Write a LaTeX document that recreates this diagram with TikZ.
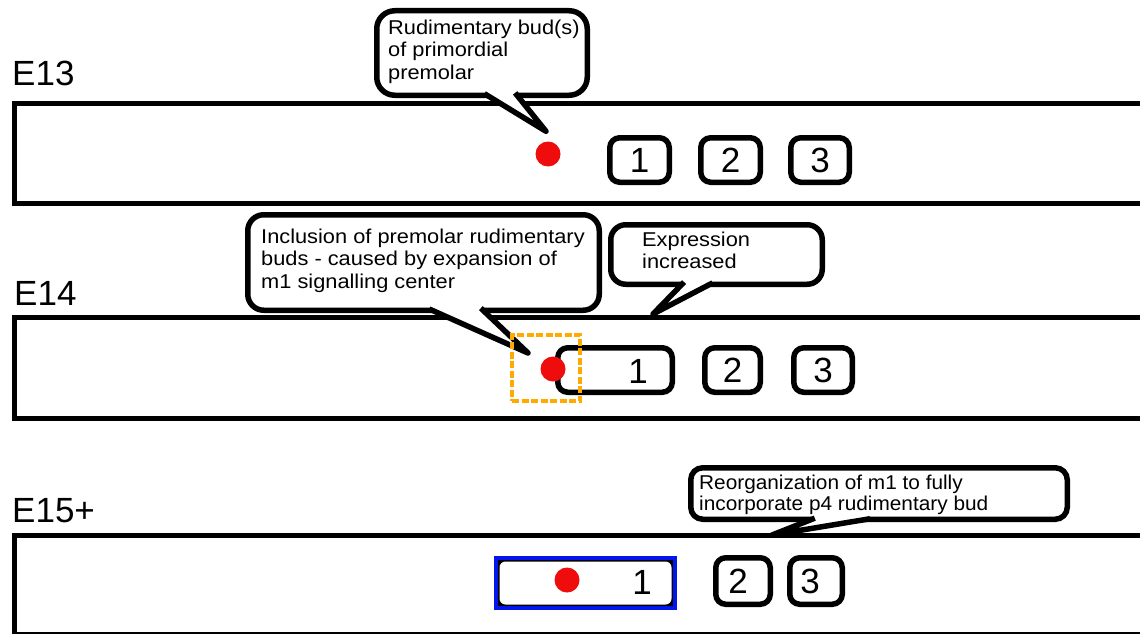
\documentclass[tikz,border=0pt]{standalone}
\usepackage{fontspec}
\setmainfont{Liberation Sans}
\newfontfamily\bubfonta[FakeStretch=1.09]{Liberation Sans}
\newfontfamily\bubfontb[FakeStretch=1.04]{Liberation Sans}
\usetikzlibrary{calc}
\definecolor{dotred}{RGB}{238,12,12}
\definecolor{hiorange}{RGB}{255,170,0}
\definecolor{hiblue}{RGB}{5,20,235}
\tikzset{
  band/.style={draw=black, line width=5pt},
  tooth/.style={draw=black, line width=5.5pt, rounded corners=10pt, fill=white, inner sep=0pt,
    font=\fontsize{35}{40}\selectfont},
  digit/.style={inner sep=0pt, font=\fontsize{35}{40}\selectfont},
  bubble/.style={draw=black, line width=5.5pt, fill=white, inner sep=0pt},
  tailline/.style={draw=black, line width=5.5pt, line join=round},
  bubtext/.style={anchor=base west, align=left, inner sep=0pt},
  fonta/.style={font=\bubfonta\fontsize{20}{#1}\selectfont},
  fontb/.style={font=\bubfontb\fontsize{20}{#1}\selectfont},
  stage/.style={anchor=base west, inner sep=0pt, font=\fontsize{35}{40}\selectfont},
  bud/.style={circle, fill=dotred, minimum size=25pt, inner sep=0pt},
}
\begin{document}
\begin{tikzpicture}[x=1pt,y=-1pt]
\useasboundingbox (0,0) rectangle (1140,634);
\clip (0,0) rectangle (1140,634);
\fill[white] (0,0) rectangle (1140,634);

% stage labels
\node[stage] (e13) at (12,85) {E13};
\node[stage] (e14) at (14,305) {E14};
\node[stage] (e15) at (12,522) {E15+};

% bands
\draw[band] (14.5,103) rectangle (1160,203.5);
\draw[band] (14.5,317) rectangle (1160,418);
\draw[band] (14.5,535) rectangle (1160,634.5);

% ---- E13 teeth
\node[tooth, minimum width=59.5pt, minimum height=44.5pt] (t13a) at (639.5,160) {1};
\node[tooth, minimum width=59.5pt, minimum height=44.5pt] (t13b) at (730.5,160) {2};
\node[tooth, minimum width=58.5pt, minimum height=44.5pt] (t13c) at (820,160) {3};

% ---- E14 teeth
\node[tooth, minimum width=114.5pt, minimum height=44.5pt] (t14a) at (615,370) {};
\node[digit] (d14a) at (638,371) {1};
\node[tooth, minimum width=55.5pt, minimum height=44.5pt] (t14b) at (732.5,370) {2};
\node[tooth, minimum width=58.5pt, minimum height=44.5pt] (t14c) at (823,370) {3};

% ---- E15 teeth
\node[draw=hiblue, fill=black, line width=4pt, minimum width=179pt, minimum height=50pt, inner sep=0pt] (m15) at (585.5,583) {};
\node[fill=white, rounded corners=6pt, minimum width=172pt, minimum height=43pt, inner sep=0pt] (m15in) at (m15.center) {};
\node[digit] (d15a) at (642,582) {1};
\node[tooth, minimum width=54.5pt, minimum height=46.5pt] (t15b) at (743,581) {};
\node[digit] (d15b) at (738,581) {2};
\node[tooth, minimum width=52.5pt, minimum height=46.5pt] (t15c) at (816,581) {};
\node[digit] (d15c) at (810,581) {3};

% ---- buds (red dots)
\node[bud] (bud13) at (548,154) {};
\node[bud] (bud14) at (553,369) {};
\node[bud] (bud15) at (567,580) {};

% ---- bubble 1
\node[bubble, rounded corners=18pt, minimum width=210.5pt, minimum height=84.5pt] (b1) at (482,53) {};
\coordinate (b1l) at (487,95.25);
\coordinate (b1r) at (517,95.25);
\coordinate (b1tip) at ($(bud13.north)+(-2,-10)$);
\fill[white] (487,90) -- (b1l) -- (b1tip) -- (b1r) -- (517,90) -- cycle;
\draw[tailline] ($(b1l)!-3pt!(b1tip)$) -- (b1tip) -- ($(b1r)!-3pt!(b1tip)$);
\node[bubtext, fonta=22] (b1t) at (388,79) {Rudimentary bud(s)\\of primordial\\premolar};

% ---- bubble 2
\node[bubble, rounded corners=16pt, minimum width=351.5pt, minimum height=95.5pt] (b2) at (423.5,262.5) {};
\coordinate (b2l) at (432,310.25);
\coordinate (b2r) at (483,310.25);
\coordinate (b2tip) at (528,353);
\fill[white] (432,305) -- (b2l) -- (b2tip) -- (b2r) -- (483,305) -- cycle;
\draw[tailline] ($(b2l)!-3pt!(b2tip)$) -- (b2tip) -- ($(b2r)!-3pt!(b2tip)$);
\node[bubtext, fonta=22.5] (b2t) at (261,288) {Inclusion of premolar rudimentary\\buds - caused by expansion of\\m1 signalling center};

% ---- bubble 3
\node[bubble, rounded corners=15pt, minimum width=211.5pt, minimum height=59.5pt] (b3) at (716.5,254.5) {};
\coordinate (b3l) at (682,284.25);
\coordinate (b3r) at (710,284.25);
\coordinate (b3tip) at (653,314);
\fill[white] (682,279) -- (b3l) -- (b3tip) -- (b3r) -- (710,279) -- cycle;
\draw[tailline] ($(b3l)!-3pt!(b3tip)$) -- (b3tip) -- ($(b3r)!-3pt!(b3tip)$);
\node[bubtext, fonta=21.5] (b3t) at (642,268) {Expression\\increased};

% ---- bubble 4
\node[bubble, rounded corners=12pt, minimum width=376.5pt, minimum height=51.5pt] (b4) at (879,493.5) {};
\coordinate (b4l) at (812,519.25);
\coordinate (b4r) at (867,519.25);
\coordinate (b4tip) at (772,535);
\fill[white] (812,514.5) -- (b4l) -- (b4tip) -- (b4r) -- (867,514.5) -- cycle;
\draw[tailline] ($(b4l)!-3pt!(b4tip)$) -- (b4tip) -- ($(b4r)!-3pt!(b4tip)$);
\node[bubtext, fontb=21] (b4t) at (699,510) {Reorganization of m1 to fully\\incorporate p4 rudimentary bud};

% ---- orange highlight around E14 bud
\node[draw=hiorange, line width=4pt, dash pattern=on 7pt off 2.5pt, minimum width=68pt, minimum height=66pt, inner sep=0pt] (hl14) at (546,368) {};
\end{tikzpicture}
\end{document}
